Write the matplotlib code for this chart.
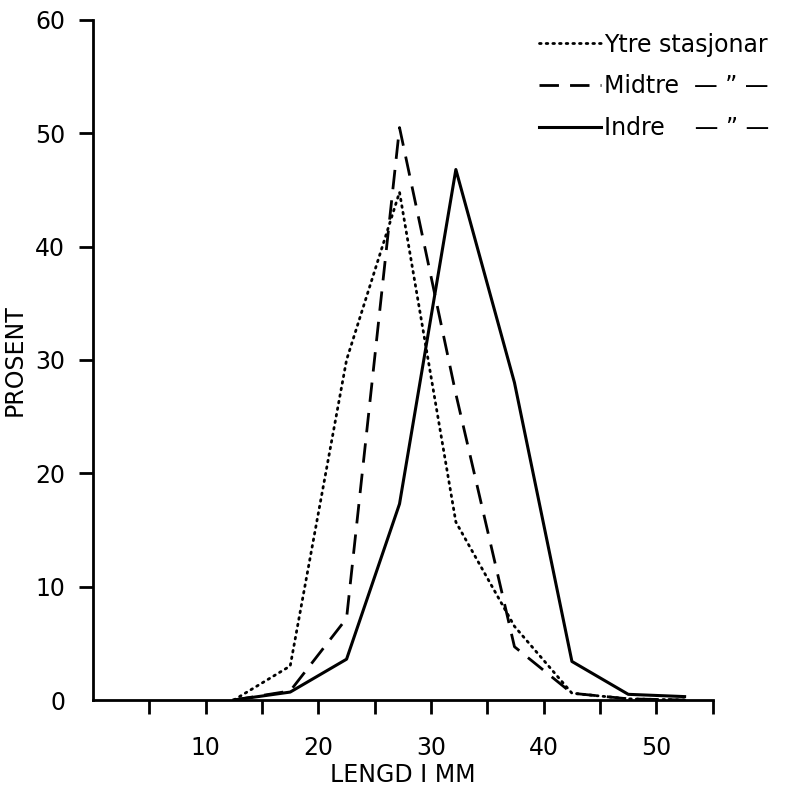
import matplotlib

matplotlib.use("Agg")
import matplotlib.pyplot as plt  # noqa: E402

# lengdeklassar (midtpunkt, mm) og prosentfordeling per stasjonsgruppe
lengd = [12.5, 17.5, 22.5, 27.2, 32.2, 37.4, 42.5, 47.5, 52.5]
ytre = [0.0, 3.0, 30.0, 44.8, 15.7, 6.5, 0.6, 0.1, 0.0]
midtre = [0.0, 0.8, 7.2, 50.5, 27.0, 4.7, 0.6, 0.1, 0.0]
indre = [0.0, 0.7, 3.6, 17.3, 46.8, 28.0, 3.4, 0.5, 0.3]

x_major = [10, 20, 30, 40, 50]
x_minor = [5, 15, 25, 35, 45, 55]
y_ticks = [0, 10, 20, 30, 40, 50, 60]

plt.rcParams["font.family"] = ["DejaVu Sans"]

fig = plt.figure(figsize=(7.85, 7.89), dpi=100)
ax = fig.add_axes([0.1185, 0.1128, 0.7895, 0.862])

ax.plot(lengd, ytre, color="black", lw=2.0, linestyle=(0, (0.6, 1.8)),
        dash_capstyle="round", label="Ytre stasjonar")
ax.plot(lengd, midtre, color="black", lw=2.0, linestyle=(0, (7, 4)),
        label="Midtre  \u2014 \u201d \u2014")
ax.plot(lengd, indre, color="black", lw=2.2, linestyle="-",
        label="Indre    \u2014 \u201d \u2014")

ax.set_xlim(0, 55)
ax.set_ylim(0, 60)
ax.set_xticks(x_major)
ax.set_xticks(x_minor, minor=True)
ax.set_yticks(y_ticks)

for side in ("top", "right"):
    ax.spines[side].set_visible(False)
for side in ("left", "bottom"):
    ax.spines[side].set_linewidth(2.0)

ax.tick_params(axis="x", which="both", direction="out", length=10, width=2,
               pad=16, labelsize=17)
ax.tick_params(axis="y", which="both", direction="out", length=10, width=2,
               pad=10, labelsize=17)
ax.yaxis.get_major_ticks()[0].tick1line.set_visible(False)

ax.set_xlabel("LENGD I MM", fontsize=17, labelpad=2)
ax.set_ylabel("PROSENT", fontsize=17, labelpad=6)

ax.legend(loc="upper left", bbox_to_anchor=(0.705, 0.995), frameon=False,
          fontsize=17, handlelength=2.6, handletextpad=0.15,
          labelspacing=0.75, borderaxespad=0)

fig.savefig("out.png", dpi=100)
